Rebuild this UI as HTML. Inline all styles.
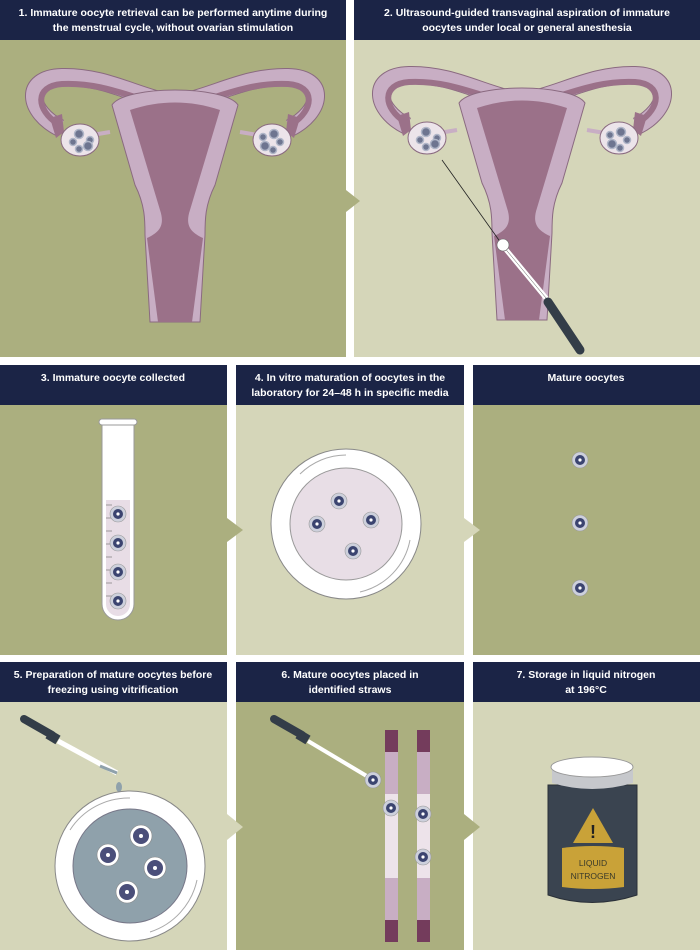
<!DOCTYPE html>
<html><head><meta charset="utf-8"><style>
html,body{margin:0;padding:0;background:#fff}
svg{display:block}
text{font-family:"Liberation Sans",sans-serif}
.h{fill:#fff;font-size:10.5px;font-weight:bold;text-anchor:middle}
</style></head><body>
<svg width="700" height="950" viewBox="0 0 700 950" xmlns="http://www.w3.org/2000/svg">
<defs>
<g id="ut">
  <path d="M60,128 C28,112 22,78 62,77 C105,76 135,96 175,104 C215,96 245,76 288,77 C328,78 322,112 290,128" fill="none" stroke="#8a6a80" stroke-width="18"/>
  <path d="M60,128 C28,112 22,78 62,77 C105,76 135,96 175,104 C215,96 245,76 288,77 C328,78 322,112 290,128" fill="none" stroke="#c8aec4" stroke-width="16"/>
  <path d="M58,124 C36,110 34,86 62,84 C105,82 135,100 175,108 C215,100 245,82 288,84 C316,86 314,110 292,124" fill="none" stroke="#9b7189" stroke-width="6"/>
  <path d="M50,118 L62,114 L64,132 L56,138 Z" fill="#9b7189"/>
  <path d="M300,118 L288,114 L286,132 L294,138 Z" fill="#9b7189"/>
  <path d="M92,135 L110,132" stroke="#c8aec4" stroke-width="4"/>
  <path d="M240,132 L258,135" stroke="#c8aec4" stroke-width="4"/>
  <path d="M112,105 C125,85 225,85 238,105 L215,185 C205,205 205,220 205,235 L200,322 L150,322 L145,235 C145,220 145,205 135,185 Z" fill="#c8aec4" stroke="#8a6a80" stroke-width="1"/>
  <path d="M130,110 C160,100 190,100 220,110 L190,210 C185,225 190,232 203,238 L192,322 L158,322 L147,238 C160,232 165,225 160,210 Z" fill="#9b7189"/>
  <ellipse cx="80" cy="140" rx="19" ry="16" fill="#ece4ea" stroke="#8a6a80"/>
  <ellipse cx="272" cy="140" rx="19" ry="16" fill="#ece4ea" stroke="#8a6a80"/>
  <g fill="#6e7590" stroke="#b0b6c8" stroke-width="1.5">
   <circle cx="79" cy="134" r="4.5"/><circle cx="90" cy="140" r="3.5"/><circle cx="88" cy="146" r="4.5"/><circle cx="73" cy="142" r="3.5"/><circle cx="79" cy="149" r="3.5"/>
   <circle cx="274" cy="134" r="4.5"/><circle cx="263" cy="137" r="3.5"/><circle cx="265" cy="146" r="4.5"/><circle cx="280" cy="142" r="3.5"/><circle cx="273" cy="150" r="3.5"/>
  </g>
</g>
<g id="oo"><circle r="8" fill="#cdd0dc" stroke="#999" stroke-width=".6"/><circle r="5" fill="#3b4470"/><circle r="1.6" fill="#fff"/></g>
</defs>

<rect x="0" y="0" width="346" height="357" fill="#abaf7f"/>
<rect x="354" y="0" width="346" height="357" fill="#d5d6b9"/>
<rect x="0" y="0" width="346" height="40" fill="#1b2446"/>
<rect x="354" y="0" width="346" height="40" fill="#1b2446"/>
<text class="h" x="173" y="16">1. Immature oocyte retrieval can be performed anytime during</text>
<text class="h" x="173" y="31">the menstrual cycle, without ovarian stimulation</text>
<text class="h" x="527" y="16">2. Ultrasound-guided transvaginal aspiration of immature</text>
<text class="h" x="527" y="31">oocytes under local or general anesthesia</text>
<polygon points="346,190 360,201 346,212" fill="#abaf7f"/>
<use href="#ut"/>
<use href="#ut" x="347" y="-2"/>
<line x1="442" y1="160" x2="501" y2="243" stroke="#222" stroke-width="0.8"/>
<line x1="503" y1="246" x2="546" y2="298" stroke="#fff" stroke-width="5" stroke-linecap="round"/>
<line x1="503" y1="246" x2="546" y2="298" stroke="#555" stroke-width="0.5"/>
<line x1="548" y1="302" x2="580" y2="350" stroke="#333d48" stroke-width="9" stroke-linecap="round"/>
<circle cx="503" cy="245" r="6" fill="#fff" stroke="#666" stroke-width=".6"/>

<rect x="0" y="365" width="227" height="290" fill="#abaf7f"/>
<rect x="236" y="365" width="228" height="290" fill="#d5d6b9"/>
<rect x="473" y="365" width="227" height="290" fill="#abaf7f"/>
<rect x="0" y="365" width="227" height="40" fill="#1b2446"/>
<rect x="236" y="365" width="228" height="40" fill="#1b2446"/>
<rect x="473" y="365" width="227" height="40" fill="#1b2446"/>
<text class="h" x="113" y="381">3. Immature oocyte collected</text>
<text class="h" x="350" y="381">4. In vitro maturation of oocytes in the</text>
<text class="h" x="350" y="396">laboratory for 24–48 h in specific media</text>
<text class="h" x="586" y="381">Mature oocytes</text>
<polygon points="227,518 243,530 227,542" fill="#abaf7f"/>
<polygon points="464,518 480,530 464,542" fill="#d5d6b9"/>
<path d="M102,422 L134,422 L134,604 A16,16 0 0 1 102,604 Z" fill="#fff" stroke="#999"/>
<path d="M106,500 L130,500 L130,604 A12,12 0 0 1 106,604 Z" fill="#e8dde6"/>
<rect x="99" y="419" width="38" height="6" rx="3" fill="#fff" stroke="#999"/>
<g stroke="#888" stroke-width=".8">
<line x1="106" y1="505" x2="112" y2="505"/><line x1="106" y1="518" x2="112" y2="518"/><line x1="106" y1="531" x2="112" y2="531"/><line x1="106" y1="544" x2="112" y2="544"/><line x1="106" y1="557" x2="112" y2="557"/><line x1="106" y1="570" x2="112" y2="570"/><line x1="106" y1="583" x2="112" y2="583"/><line x1="106" y1="596" x2="112" y2="596"/>
</g>
<use href="#oo" x="118" y="514"/>
<use href="#oo" x="118" y="543"/>
<use href="#oo" x="118" y="572"/>
<use href="#oo" x="118" y="601"/>
<circle cx="346" cy="524" r="75" fill="#fff" stroke="#888"/>
<circle cx="346" cy="524" r="56" fill="#e8dee6" stroke="#999"/>
<path d="M300,474 A66,66 0 0 1 346,455" fill="none" stroke="#aaa"/>
<path d="M410,540 A66,66 0 0 1 360,592" fill="none" stroke="#aaa"/>
<use href="#oo" x="339" y="501"/>
<use href="#oo" x="317" y="524"/>
<use href="#oo" x="371" y="520"/>
<use href="#oo" x="353" y="551"/>
<use href="#oo" x="580" y="460"/>
<use href="#oo" x="580" y="523"/>
<use href="#oo" x="580" y="588"/>

<rect x="0" y="662" width="227" height="288" fill="#d5d6b9"/>
<rect x="236" y="662" width="228" height="288" fill="#abaf7f"/>
<rect x="473" y="662" width="227" height="288" fill="#d5d6b9"/>
<rect x="0" y="662" width="227" height="40" fill="#1b2446"/>
<rect x="236" y="662" width="228" height="40" fill="#1b2446"/>
<rect x="473" y="662" width="227" height="40" fill="#1b2446"/>
<text class="h" x="113" y="678">5. Preparation of mature oocytes before</text>
<text class="h" x="113" y="693">freezing using vitrification</text>
<text class="h" x="350" y="678">6. Mature oocytes placed in</text>
<text class="h" x="350" y="693">identified straws</text>
<text class="h" x="586" y="678">7. Storage in liquid nitrogen</text>
<text class="h" x="586" y="693">at 196°C</text>
<polygon points="227,814 243,827 227,840" fill="#d5d6b9"/>
<polygon points="464,814 480,827 464,840" fill="#abaf7f"/>
<line x1="24" y1="719" x2="52" y2="735" stroke="#333d48" stroke-width="8" stroke-linecap="round"/>
<line x1="48" y1="734" x2="58" y2="740" stroke="#333d48" stroke-width="10"/>
<line x1="58" y1="741" x2="117" y2="773" stroke="#fff" stroke-width="5"/>
<line x1="100" y1="766" x2="117" y2="773" stroke="#8fa1ab" stroke-width="3"/>
<ellipse cx="119" cy="787" rx="3" ry="5" fill="#8fa1ab"/>
<circle cx="130" cy="866" r="75" fill="#fff" stroke="#888"/>
<circle cx="130" cy="866" r="57" fill="#8fa1ab" stroke="#778"/>
<path d="M70,830 A70,70 0 0 1 130,798" fill="none" stroke="#aaa"/>
<path d="M197,880 A70,70 0 0 1 150,932" fill="none" stroke="#aaa"/>
<g id="bo"><circle cx="141" cy="836" r="11" fill="#fff" stroke="#888" stroke-width=".6"/><circle cx="141" cy="836" r="8" fill="#4b4f7a"/><circle cx="141" cy="836" r="2" fill="#fff"/></g>
<use href="#bo" x="-33" y="19"/>
<use href="#bo" x="14" y="32"/>
<use href="#bo" x="-14" y="56"/>
<line x1="274" y1="719" x2="302" y2="735" stroke="#333d48" stroke-width="8" stroke-linecap="round"/>
<line x1="298" y1="734" x2="308" y2="740" stroke="#333d48" stroke-width="10"/>
<line x1="308" y1="741" x2="370" y2="778" stroke="#fff" stroke-width="4"/>
<use href="#oo" x="373" y="780"/>
<rect x="385" y="730" width="13" height="22" fill="#743c5c"/>
<rect x="385" y="752" width="13" height="42" fill="#c8aec4"/>
<rect x="385" y="794" width="13" height="84" fill="#ede3ea"/>
<rect x="385" y="878" width="13" height="42" fill="#c8aec4"/>
<rect x="385" y="920" width="13" height="22" fill="#743c5c"/>
<rect x="417" y="730" width="13" height="22" fill="#743c5c"/>
<rect x="417" y="752" width="13" height="42" fill="#c8aec4"/>
<rect x="417" y="794" width="13" height="84" fill="#ede3ea"/>
<rect x="417" y="878" width="13" height="42" fill="#c8aec4"/>
<rect x="417" y="920" width="13" height="22" fill="#743c5c"/>
<use href="#oo" x="391" y="808"/>
<use href="#oo" x="423" y="814"/>
<use href="#oo" x="423" y="857"/>
<path d="M548,785 L548,895 Q592,910 637,895 L637,785 Z" fill="#3a4450" stroke="#2a3038"/>
<path d="M552,770 L552,783 Q592,795 633,783 L633,770 Z" fill="#c6c8cc"/>
<ellipse cx="592" cy="767" rx="41" ry="10" fill="#fff" stroke="#999"/>
<polygon points="593,808 613,843 573,843" fill="#c9a238"/>
<text x="593" y="838" font-size="18" font-weight="bold" text-anchor="middle" fill="#222">!</text>
<path d="M562,848 Q593,844 624,848 L624,887 Q593,891 562,887 Z" fill="#c9a238"/>
<text x="593" y="866" font-size="8.5" text-anchor="middle" fill="#3a3a2a">LIQUID</text>
<text x="593" y="879" font-size="8.5" text-anchor="middle" fill="#3a3a2a">NITROGEN</text>
</svg>
</body></html>
